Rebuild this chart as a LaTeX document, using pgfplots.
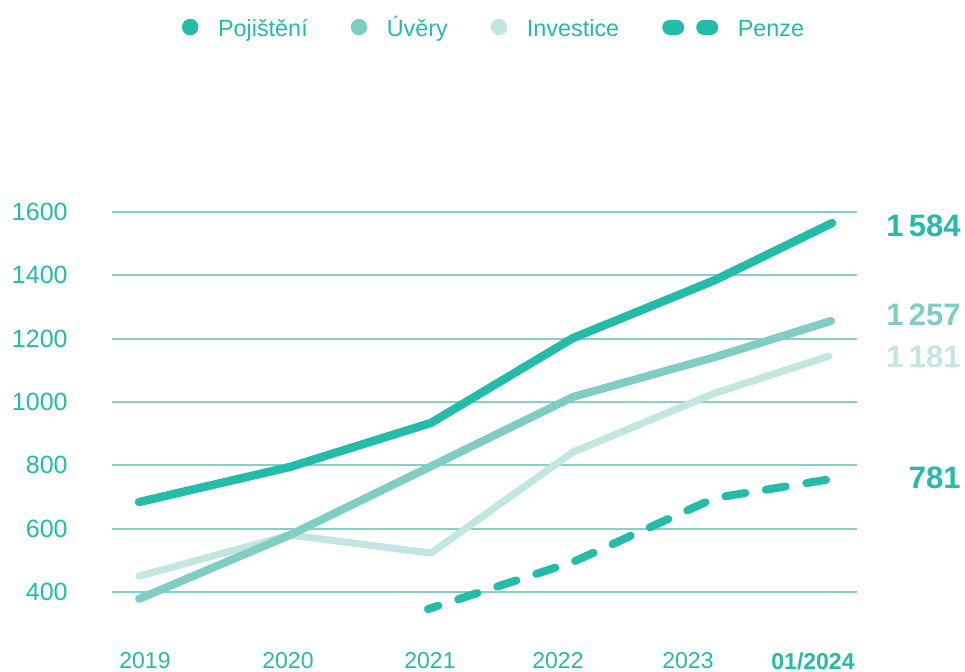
\documentclass[border=0pt]{standalone}
\usepackage{pgfplots}
\pgfplotsset{compat=1.18}
\usepackage{fontspec}
\setmainfont{Liberation Sans}
\definecolor{c1}{HTML}{22BCA8}
\definecolor{c2}{HTML}{80CDC3}
\definecolor{c3}{HTML}{C3E6E0}
\definecolor{gridc}{HTML}{86D0C6}
\begin{document}
\begin{tikzpicture}
\begin{axis}[
  scale only axis, width=372.5pt, height=190pt,
  xmin=112, xmax=857, ymin=400, ymax=1600,
  clip=false,
  axis line style={draw=none},
  major tick style={draw=none},
  ytick={400,600,...,1600},
  ymajorgrids, grid style={line width=1pt, color=gridc},
  xtick={145,288,430,558,688,813},
  xticklabels={2019,2020,2021,2022,2023,\textbf{01/2024}},
  /pgf/number format/assume math mode=true,
  /pgf/number format/1000 sep={},
  ticklabel style={text=c1, inner sep=0pt},
  yticklabel style={anchor=east, xshift=-22pt, font=\fontsize{12.5}{14}\selectfont},
  xticklabel style={anchor=north, yshift=-30pt, font=\fontsize{11.5}{13}\selectfont},
  legend columns=4,
  legend style={at={(axis description cs:0.094,1.479)}, anchor=west,
    draw=none, fill=none, inner sep=0pt, outer sep=0pt,
    font=\fontsize{11.7}{14}\selectfont, text=c1,
    nodes={inner sep=0pt, text height=0.75em, text depth=0.25em},
    /tikz/every odd column/.append style={column sep=9.8pt},
    /tikz/every even column/.append style={column sep=21.5pt}},
]
\addlegendimage{legend image code/.code={\fill[c1] (3.9pt,2pt) circle (3.9pt);}}
\addlegendentry{Pojištění}
\addlegendimage{legend image code/.code={\fill[c2] (3.9pt,2pt) circle (3.9pt);}}
\addlegendentry{Úvěry}
\addlegendimage{legend image code/.code={\fill[c3] (3.9pt,2pt) circle (3.9pt);}}
\addlegendentry{Investice}
\addlegendimage{legend image code/.code={\path[draw=none,fill=none] (0pt,-1.75pt) rectangle (24pt,5.75pt);
   \draw[c1, line width=7.5pt, line cap=round] (3.75pt,2pt)--(7.25pt,2pt) (20.75pt,2pt)--(24.25pt,2pt);}}
\addlegendentry{Penze}

\addplot[forget plot, c3, line width=3.6pt, line cap=round, line join=round]
  coordinates {(139,450) (290,580) (431,523) (573,842) (715,1028) (829,1145)};
\addplot[forget plot, c2, line width=4pt, line cap=round, line join=round]
  coordinates {(139,378) (290,580) (431,797) (573,1016) (715,1142) (831,1256)};
\addplot[forget plot, c1, line width=4.2pt, line cap=round, line join=round]
  coordinates {(139,684) (290,795) (431,934) (573,1202) (715,1385) (832,1565)};
\addplot[forget plot, c1, line width=4pt, line cap=round, line join=round,
  dash pattern=on 10pt off 10.5pt, dash phase=4.6pt]
  coordinates {(428,346) (573,495) (715,697) (826,754)};

\node[anchor=east, inner sep=0pt, font=\fontsize{15.5}{18}\selectfont\bfseries, text=c1] at (axis cs:961,1556) {1\,584};
\node[anchor=east, inner sep=0pt, font=\fontsize{15.5}{18}\selectfont\bfseries, text=c2] at (axis cs:961,1275) {1\,257};
\node[anchor=east, inner sep=0pt, font=\fontsize{15.5}{18}\selectfont\bfseries, text=c3] at (axis cs:961,1142) {1\,181};
\node[anchor=east, inner sep=0pt, font=\fontsize{15.5}{18}\selectfont\bfseries, text=c1] at (axis cs:961,760) {781};

\coordinate (BL) at (axis cs:0,147.4);
\coordinate (TR) at (axis cs:965,2269.5);
\end{axis}
\pgfresetboundingbox
\path (BL) rectangle (TR);
\end{tikzpicture}
\end{document}
